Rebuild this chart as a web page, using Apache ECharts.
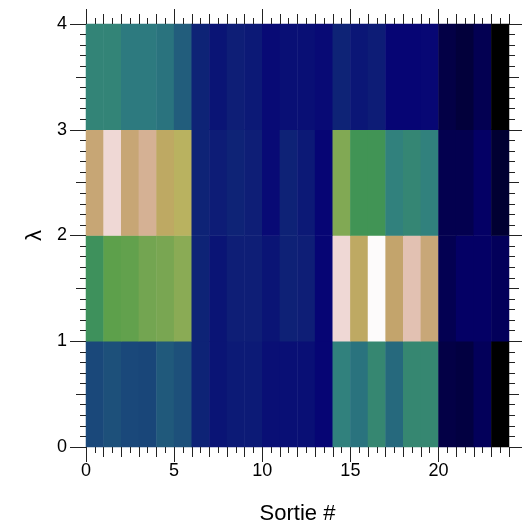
<!DOCTYPE html>
<html><head><meta charset="utf-8">
<script src="https://cdn.jsdelivr.net/npm/echarts@6/dist/echarts.min.js"></script>
<style>html,body{margin:0;padding:0;background:#fff}#c{width:522px;height:526px}</style>
</head><body><div id="c"></div>
<script>
// ---- data ----
const xCategories = ['0','1','2','3','4','5','6','7','8','9','10','11','12','13','14','15','16','17','18','19','20','21','22','23'];
const yCategories = ['0','1','2','3'];
// value per cell (colour-mapped 0..1), one array per lambda row (bottom to top)
const row0 = [0.155,0.170,0.155,0.150,0.190,0.170,0.087,0.062,0.072,0.072,0.053,0.053,0.053,0.036,0.290,0.250,0.330,0.224,0.330,0.330,0.013,0.011,0.020,0.000];
const row1 = [0.395,0.500,0.510,0.540,0.550,0.590,0.087,0.062,0.079,0.079,0.062,0.083,0.079,0.036,0.950,0.760,1.000,0.795,0.905,0.815,0.017,0.024,0.024,0.020];
const row2 = [0.810,0.950,0.810,0.860,0.760,0.720,0.087,0.075,0.087,0.079,0.045,0.085,0.070,0.036,0.570,0.420,0.420,0.290,0.320,0.290,0.016,0.016,0.024,0.006];
const row3 = [0.310,0.310,0.267,0.267,0.250,0.198,0.087,0.062,0.079,0.070,0.045,0.053,0.053,0.045,0.087,0.065,0.075,0.036,0.036,0.040,0.013,0.009,0.017,0.000];
const xName = 'Sortie #';
const yName = 'λ';
const xMax = 24;
const xMajorStep = 5;
const yMax = 4;

// ---- gist_earth colour map (style) ----
const gistR = [[0,0],[0.2824,0.1882],[0.4588,0.2714],[0.5490,0.4719],[0.6980,0.7176],[0.7882,0.7553],[1,0.9922]];
const gistG = [[0,0],[0.0275,0],[0.1098,0.1893],[0.1647,0.3035],[0.2078,0.3841],[0.2824,0.5020],[0.5216,0.6397],[0.6980,0.7171],[0.7882,0.6392],[0.7922,0.6413],[0.8000,0.6447],[0.8078,0.6481],[0.8157,0.6549],[0.8667,0.6991],[0.8745,0.7103],[0.8824,0.7216],[0.8902,0.7323],[0.8980,0.7430],[0.9412,0.8275],[0.9569,0.8635],[0.9647,0.8816],[0.9961,0.9733],[1,0.9843]];
const gistB = [[0,0],[0.0039,0.1684],[0.0078,0.2212],[0.0275,0.4329],[0.0314,0.4549],[0.2824,0.5004],[0.4667,0.2748],[0.5451,0.3205],[0.7843,0.3961],[0.8941,0.6651],[1,0.9843]];
function seg(s, t){
  for (let i=1;i<s.length;i++){
    if (t<=s[i][0]){ const a=s[i-1], b=s[i]; return a[1]+(b[1]-a[1])*(t-a[0])/(b[0]-a[0]); }
  }
  return s[s.length-1][1];
}
const cmap = [];
for (let k=0;k<=200;k++){
  const t=k/200;
  cmap.push('rgb('+Math.round(seg(gistR,t)*255)+','+Math.round(seg(gistG,t)*255)+','+Math.round(seg(gistB,t)*255)+')');
}
const rows = [row0,row1,row2,row3];
const cells = [];
rows.forEach((row,r)=>row.forEach((v,c)=>cells.push([c,r,v])));

// ---- layout ----
const W = 522, L = 86, R = 13, T = 24, B = 79;
const plotW = W - L - R;
const xMaxMajor = Math.ceil(xMax / xMajorStep) * xMajorStep;
const majorW = plotW * xMaxMajor / xMax;

const FONT = "'Liberation Sans', Arial, sans-serif";
const TICK = '#222';
function valAxis(pos, min, max, extra){
  const ax = {
    type:'value', position:pos, min:min, max:max,
    splitLine:{show:false}, minorSplitLine:{show:false}, axisLine:{show:false, onZero:false},
    axisTick:{show:true, lineStyle:{color:TICK, width:1}},
    axisLabel:{show:false}, z:5
  };
  return Object.assign(ax, extra);
}
function tick(len){ return {show:true, inside:false, length:len, lineStyle:{color:TICK, width:1}}; }
function minor(n, len){ return {show:true, splitNumber:n, length:len, lineStyle:{color:TICK, width:1}}; }
const NOTICK = {show:false};

const xAxes = [
  {type:'category', data:xCategories, show:false, gridIndex:0, axisLine:{onZero:false}},
  valAxis('bottom',0,xMax,{gridIndex:0, interval:1, axisTick:tick(10), minorTick:minor(2,6),
    name:xName, nameLocation:'middle', nameGap:56,
    nameTextStyle:{fontSize:22, color:'#000', fontFamily:FONT}}),
  valAxis('top',0,xMax,{gridIndex:0, interval:1, axisTick:tick(10), minorTick:minor(2,6)}),
  valAxis('bottom',0,xMaxMajor,{gridIndex:1, interval:xMajorStep, axisTick:tick(15)}),
  valAxis('bottom',0,xMaxMajor,{gridIndex:1, interval:xMajorStep, axisTick:NOTICK,
    axisLabel:{show:true, showMaxLabel:false, fontSize:18, color:'#000', fontFamily:FONT, margin:15}}),
  valAxis('top',0,xMaxMajor,{gridIndex:1, interval:xMajorStep, axisTick:tick(15)})
];
const yAxes = [
  {type:'category', data:yCategories, show:false, gridIndex:0, axisLine:{onZero:false}},
  valAxis('left',0,yMax,{gridIndex:0, interval:1, axisTick:tick(16)}),
  valAxis('left',0,yMax,{
    gridIndex:0, interval:1, axisTick:NOTICK,
    axisLabel:{show:true, fontSize:18, color:'#000', fontFamily:FONT, margin:19},
    name:yName, nameLocation:'middle', nameGap:40, nameRotate:90,
    nameTextStyle:{fontSize:22, color:'#000', fontFamily:FONT}
  }),
  valAxis('left',0,yMax,{gridIndex:0, interval:0.5, axisTick:tick(10), minorTick:minor(5,6)}),
  valAxis('right',0,yMax,{gridIndex:0, interval:1, axisTick:tick(14)}),
  valAxis('right',0,yMax,{gridIndex:0, interval:0.5, axisTick:tick(10), minorTick:minor(5,6)}),
  {type:'value', gridIndex:1, min:0, max:yMax, show:false, axisLine:{onZero:false}}
];

const chart = echarts.init(document.getElementById('c'), null, {renderer:'canvas'});
chart.setOption({
  animation:false,
  backgroundColor:'#fff',
  grid:[
    {left:L, right:R, top:T, bottom:B, containLabel:false, outerBoundsMode:'none'},
    {left:L, width:majorW, top:T, bottom:B, containLabel:false, outerBoundsMode:'none'}
  ],
  xAxis:xAxes,
  yAxis:yAxes,
  visualMap:{type:'continuous', show:false, min:0, max:1, dimension:2, seriesIndex:0, inRange:{color:cmap}},
  series:[{
    type:'heatmap', xAxisIndex:0, yAxisIndex:0, data:cells,
    itemStyle:{borderWidth:0}, progressive:0, emphasis:{disabled:true}, z:3
  }]
});
</script>
</body></html>
